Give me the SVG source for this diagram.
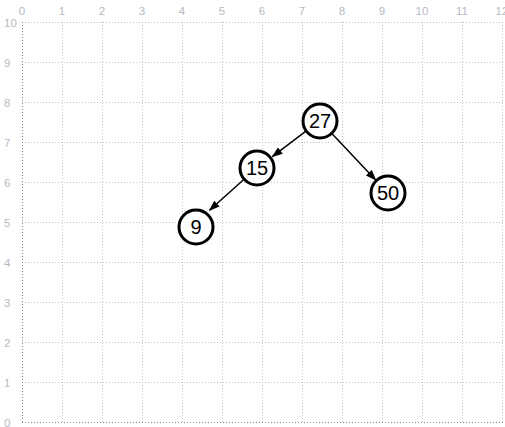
<svg xmlns="http://www.w3.org/2000/svg" width="505" height="427" viewBox="0 0 505 427">
<style>
.grid{stroke:#c4c4c4;stroke-width:1;stroke-dasharray:1,2;fill:none}
.axis{stroke:#8a8a8a;stroke-width:1;stroke-dasharray:1,2;fill:none}
.lbl{font-family:"Liberation Sans",Arial,sans-serif;font-size:11.5px;fill:#b8b8c4}
.node circle{fill:#fff;stroke:#000;stroke-width:3}
.node text{font-family:"Liberation Sans",Arial,sans-serif;font-size:20px;fill:#000;text-anchor:middle}
.edge{stroke:#000;stroke-width:1.5;fill:none;marker-end:url(#arr)}
</style>
<defs>
<marker id="arr" markerWidth="11" markerHeight="8" refX="10" refY="4" orient="auto" markerUnits="userSpaceOnUse">
<path d="M0,0 L11,4 L0,8 Z" fill="#000"/>
</marker>
</defs>
<rect width="505" height="427" fill="#fff"/>
<g id="grid">
<path class="grid" d="M62.5,22V422M102.5,22V422M142.5,22V422M182.5,22V422M222.5,22V422M262.5,22V422M302.5,22V422M342.5,22V422M382.5,22V422M422.5,22V422M462.5,22V422M502.5,22V422"/>
<path class="grid" d="M22,22.5H505M22,62.5H505M22,102.5H505M22,142.5H505M22,182.5H505M22,222.5H505M22,262.5H505M22,302.5H505M22,342.5H505M22,382.5H505"/>
<path class="axis" d="M22.5,22V422M22,422.5H505"/>
</g>
<g id="labels" class="lbl">
<g text-anchor="middle">
<text x="22" y="15">0</text><text x="62" y="15">1</text><text x="102" y="15">2</text><text x="142" y="15">3</text><text x="182" y="15">4</text><text x="222" y="15">5</text><text x="262" y="15">6</text><text x="302" y="15">7</text><text x="342" y="15">8</text><text x="382" y="15">9</text><text x="422" y="15">10</text><text x="462" y="15">11</text><text x="502" y="15">12</text>
</g>
<text x="4" y="27">10</text><text x="4" y="67">9</text><text x="4" y="107">8</text><text x="4" y="147">7</text><text x="4" y="187">6</text><text x="4" y="227">5</text><text x="4" y="267">4</text><text x="4" y="307">3</text><text x="4" y="347">2</text><text x="4" y="387">1</text><text x="4" y="427">0</text>
</g>
<g id="connectors">
<line class="edge" x1="305.6" y1="131.4" x2="272.4" y2="156.6"/>
<line class="edge" x1="332.3" y1="134.1" x2="375.7" y2="179.9"/>
<line class="edge" x1="243.5" y1="179.7" x2="209.5" y2="210.3"/>
</g>
<g id="n27" class="node"><circle cx="320" cy="121" r="17"/><text x="320" y="128">27</text></g>
<g id="n15" class="node"><circle cx="257" cy="168" r="17"/><text x="257" y="175">15</text></g>
<g id="n50" class="node"><circle cx="388" cy="193" r="17"/><text x="388" y="200">50</text></g>
<g id="n9" class="node"><circle cx="196" cy="227" r="17"/><text x="196" y="234">9</text></g>
</svg>
